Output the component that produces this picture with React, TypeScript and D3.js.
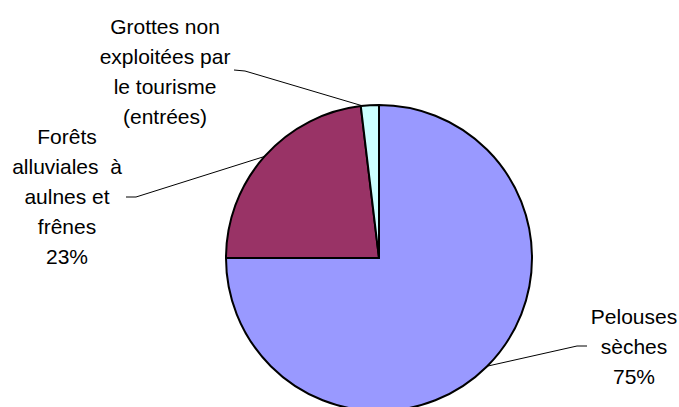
import React from "react";
import * as d3 from "d3";

const categories = ["Pelouses sèches", "Forêts alluviales à aulnes et frênes", "Grottes non exploitées par le tourisme (entrées)"];
const values = [75.0, 23.1, 1.9];
const colors = ["#9999FF", "#993366", "#CCFFFF"];
const labelLines = [
  ["Pelouses", "sèches", "75%"],
  ["Forêts", "alluviales  à", "aulnes et", "frênes", "23%"],
  ["Grottes non", "exploitées par", "le tourisme", "(entrées)"],
];

const W = 679;
const H = 407;
const cx = 379;
const cy = 258;
const R = 153;
const fontSize = 21;
const lineH = 30;

// label layout: center x, first line baseline y, leader path points (outer end, elbow, label end)
const labelLayout = [
  { x: 634, y: 324, leader: { t: 0.5, elbow: [577, 346], end: [587, 346] } },
  { x: 67, y: 144, leader: { t: 0.5, elbow: [136, 197], end: [126, 197] } },
  { x: 165, y: 34, leader: { t: 0.1, elbow: [245, 71], end: [234, 70] } },
];

export default function App() {
  const pie = d3.pie<number>().sort(null).value((d) => d)(values);
  const arc = d3.arc<d3.PieArcDatum<number>>().innerRadius(0).outerRadius(R);
  return (
    <svg width={W} height={H} style={{ position: "absolute", left: 0, top: 0, background: "#fff" }}>
      <g transform={`translate(${cx},${cy})`}>
        {pie.map((p, i) => (
          <path key={i} d={arc(p) || ""} fill={colors[i]} stroke="#000" strokeWidth={2} strokeLinejoin="round" />
        ))}
      </g>
      {pie.map((p, i) => {
        const L = labelLayout[i];
        const a = p.startAngle + (p.endAngle - p.startAngle) * L.leader.t;
        const sx = cx + R * Math.sin(a);
        const sy = cy - R * Math.cos(a);
        const pts: [number, number][] = [[sx, sy], L.leader.elbow as [number, number], L.leader.end as [number, number]];
        return (
          <g key={i}>
            <path d={d3.line()(pts) || ""} fill="none" stroke="#000" strokeWidth={1} />
            <text fontFamily="'Liberation Sans', Arial, sans-serif" fontSize={fontSize} textAnchor="middle" fill="#000">
              {labelLines[i].map((t, j) => (
                <tspan key={j} x={L.x} y={L.y + j * lineH} style={{ whiteSpace: "pre" }}>
                  {t}
                </tspan>
              ))}
            </text>
          </g>
        );
      })}
    </svg>
  );
}
